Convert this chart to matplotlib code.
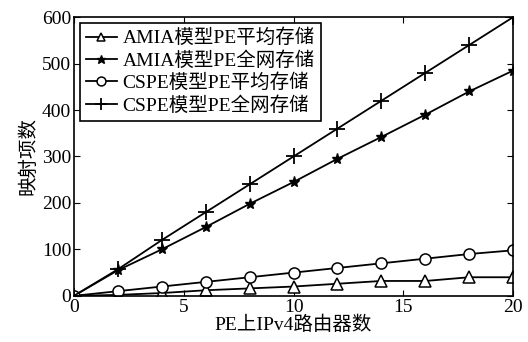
import matplotlib
matplotlib.use("Agg")
import matplotlib.pyplot as plt

plt.rcParams['font.family'] = ['Liberation Serif', 'Noto Sans CJK SC']
plt.rcParams['font.size'] = 12

# 每台PE上IPv4路由器数
routers = [0, 2, 4, 6, 8, 10, 12, 14, 16, 18, 20]
amia_avg = [0, 2, 6, 12, 16, 20, 26, 32, 32, 40, 40]
amia_all = [0, 55, 100, 148, 198, 245, 295, 342, 390, 440, 485]
cspe_avg = [0, 10, 20, 30, 40, 50, 60, 70, 80, 90, 98]
cspe_all = [0, 57, 120, 180, 240, 300, 360, 420, 480, 540, 600]

labels = ['AMIA模型PE平均存储', 'AMIA模型PE全网存储',
          'CSPE模型PE平均存储', 'CSPE模型PE全网存储']

fig = plt.figure(figsize=(5.28, 3.42), dpi=100)
ax = fig.add_axes([0.140, 0.135, 0.832, 0.815])

lw = 1.3
ax.plot(routers, amia_avg, color='black', lw=lw, marker='^', ms=8,
        mfc='white', mec='black', mew=1.1, label=labels[0])
ax.plot(routers, amia_all, color='black', lw=lw, marker='*', ms=8,
        mfc='black', mec='black', label=labels[1])
ax.plot(routers, cspe_avg, color='black', lw=lw, marker='o', ms=8,
        mfc='white', mec='black', mew=1.1, label=labels[2])
ax.plot(routers, cspe_all, color='black', lw=lw, marker='+', ms=11,
        mew=1.3, label=labels[3])

ax.set_xlim(0, 20)
ax.set_ylim(0, 600)
ax.set_xticks([0, 5, 10, 15, 20])
ax.set_yticks(range(0, 601, 100))
ax.tick_params(direction='in', top=True, right=True, length=4, labelsize=14, pad=2)
for s in ax.spines.values():
    s.set_linewidth(1.2)

ax.set_xlabel('PE上IPv4路由器数', fontsize=14, labelpad=0)
ax.set_ylabel('映射项数', fontsize=14, labelpad=3)

leg = ax.legend(loc='upper left', fontsize=14, frameon=True, fancybox=False,
                edgecolor='black', framealpha=1, handlelength=1.6,
                handletextpad=0.3, labelspacing=0.2, borderpad=0.3,
                borderaxespad=0.3, markerscale=0.8)
leg.get_frame().set_linewidth(1.2)

fig.savefig('out.png', dpi=100)
